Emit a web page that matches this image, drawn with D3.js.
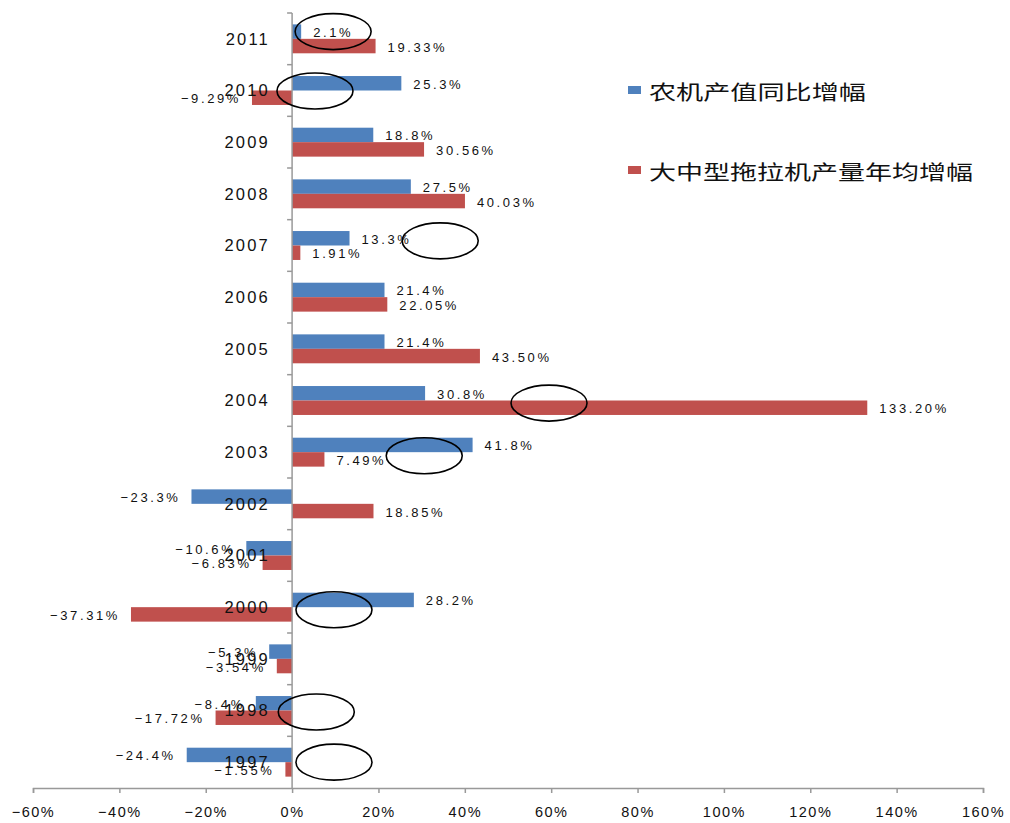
<html>
<style>
    body { margin: 0px; background: #fff; }
</style>
<body>
<svg id="viz"></svg>
</body>
<script src="https://d3js.org/d3.v7.min.js"></script>
<script>
// data
var years = ["2011", "2010", "2009", "2008", "2007", "2006", "2005", "2004", "2003", "2002", "2001", "2000", "1999", "1998", "1997"];
var outputGrowth = [2.1, 25.3, 18.8, 27.5, 13.3, 21.4, 21.4, 30.8, 41.8, -23.3, -10.6, 28.2, -5.3, -8.4, -24.4];
var outputLabels = ["2.1%", "25.3%", "18.8%", "27.5%", "13.3%", "21.4%", "21.4%", "30.8%", "41.8%", "−23.3%", "−10.6%", "28.2%", "−5.3%", "−8.4%", "−24.4%"];
var tractorGrowth = [19.33, -9.29, 30.56, 40.03, 1.91, 22.05, 43.50, 133.20, 7.49, 18.85, -6.83, -37.31, -3.54, -17.72, -1.55];
var tractorLabels = ["19.33%", "−9.29%", "30.56%", "40.03%", "1.91%", "22.05%", "43.50%", "133.20%", "7.49%", "18.85%", "−6.83%", "−37.31%", "−3.54%", "−17.72%", "−1.55%"];
var seriesNames = ["农机产值同比增幅", "大中型拖拉机产量年均增幅"];
var seriesColors = ["#4F81BD", "#C0504D"];
var xTicks = [-60, -40, -20, 0, 20, 40, 60, 80, 100, 120, 140, 160];

// hand-drawn ellipses: year, x value (%), vertical shift as part of a band
var ringYears = ["2011", "2010", "2007", "2004", "2003", "2000", "1998", "1997"];
var ringValues = [9.5, 5.3, 34.3, 59.5, 30.6, 9.7, 5.6, 9.7];
var ringShift = [-0.14, 0.01, -0.09, 0.05, 0.07, 0.05, 0.03, 0.0];

var width = 1010, height = 823;
var svg = d3.select("#viz").attr("width", width).attr("height", height);

var x = d3.scaleLinear().domain([-60, 160]).range([33, 983]);
var y = d3.scaleBand().domain(years).range([13, 788]).paddingInner(0.44).paddingOuter(0.22);
var sub = d3.scaleBand().domain([0, 1]).range([0, y.bandwidth()]);

var rows = years.map(function(yr, i) {
    return {year: yr, vals: [outputGrowth[i], tractorGrowth[i]], labs: [outputLabels[i], tractorLabels[i]]};
});

// bars
var group = svg.append("g").selectAll("g")
    .data(rows).enter().append("g")
    .attr("transform", function(d) { return "translate(0," + y(d.year) + ")"; });

group.selectAll("rect")
    .data(function(d) { return d.vals.map(function(v, k) { return {v: v, k: k}; }); })
    .enter().append("rect")
    .attr("x", function(d) { return x(Math.min(0, d.v)); })
    .attr("y", function(d) { return sub(d.k); })
    .attr("width", function(d) { return Math.abs(x(d.v) - x(0)); })
    .attr("height", sub.bandwidth())
    .attr("fill", function(d) { return seriesColors[d.k]; });

// x axis
var xAxis = d3.axisBottom(x).tickValues(xTicks).tickSize(5).tickPadding(14)
    .tickFormat(function(d) { return (d < 0 ? "−" + (-d) : d) + "%"; });
var gx = svg.append("g").attr("transform", "translate(0,788)").call(xAxis);
gx.select(".domain").attr("stroke", "#999").attr("stroke-width", 1.5);
gx.selectAll(".tick line").attr("stroke", "#999").attr("stroke-width", 1.5);
gx.selectAll(".tick text")
    .attr("fill", "#111")
    .style("font-family", "'Liberation Sans', Arial, sans-serif")
    .style("font-size", "14.5px")
    .style("letter-spacing", "1.5px");

// y axis line at zero with ticks between categories
svg.append("line")
    .attr("x1", x(0)).attr("x2", x(0)).attr("y1", 13).attr("y2", 788)
    .attr("stroke", "#999").attr("stroke-width", 1.5);
svg.append("g").selectAll("line")
    .data(years).enter().append("line")
    .attr("x1", x(0) - 5).attr("x2", x(0))
    .attr("y1", function(d) { return y(d) - y.step() * y.paddingInner() / 2; })
    .attr("y2", function(d) { return y(d) - y.step() * y.paddingInner() / 2; })
    .attr("stroke", "#999").attr("stroke-width", 1.5);

// value labels
group.selectAll("text.val")
    .data(function(d) { return d.vals.map(function(v, k) { return {v: v, k: k, lab: d.labs[k]}; }); })
    .enter().append("text")
    .attr("class", "val")
    .attr("x", function(d) { return d.v >= 0 ? x(d.v) + 12 : x(d.v) - 11; })
    .attr("y", function(d) { return sub(d.k) + sub.bandwidth() / 2 + 1; })
    .attr("dy", "0.35em")
    .attr("text-anchor", function(d) { return d.v >= 0 ? "start" : "end"; })
    .attr("fill", "#111")
    .style("font-family", "'Liberation Sans', Arial, sans-serif")
    .style("font-size", "13px")
    .style("letter-spacing", "2.6px")
    .text(function(d) { return d.lab; });

// year labels (drawn over the bars)
svg.append("g").selectAll("text")
    .data(years).enter().append("text")
    .attr("x", 270)
    .attr("y", function(d) { return y(d) + y.bandwidth() / 2; })
    .attr("dy", "0.35em")
    .attr("text-anchor", "end")
    .attr("fill", "#111")
    .style("font-family", "'Liberation Sans', Arial, sans-serif")
    .style("font-size", "16.5px")
    .style("letter-spacing", "2.2px")
    .text(function(d) { return d; });

// legend
var legendY = [90, 170];
var legendLen = [217, 324];
var legend = svg.append("g").selectAll("g")
    .data(seriesNames).enter().append("g")
    .attr("transform", function(d, i) { return "translate(628," + legendY[i] + ")"; });
legend.append("rect")
    .attr("x", 0).attr("y", -4).attr("width", 13).attr("height", 8)
    .attr("fill", function(d, i) { return seriesColors[i]; });
legend.append("text")
    .attr("x", 21).attr("y", 3).attr("dy", "0.35em")
    .attr("textLength", function(d, i) { return legendLen[i]; })
    .attr("lengthAdjust", "spacingAndGlyphs")
    .attr("fill", "#111")
    .style("font-family", "'Noto Sans CJK SC', sans-serif")
    .style("font-size", "20px")
    .text(function(d) { return d; });

// hand-drawn ellipses
svg.append("g").selectAll("ellipse")
    .data(ringYears).enter().append("ellipse")
    .attr("cx", function(d, i) { return x(ringValues[i]); })
    .attr("cy", function(d, i) { return y(d) + y.bandwidth() / 2 + ringShift[i] * y.step(); })
    .attr("rx", 38)
    .attr("ry", 18)
    .attr("fill", "none")
    .attr("stroke", "#000")
    .attr("stroke-width", 1.6);
</script>
</html>
